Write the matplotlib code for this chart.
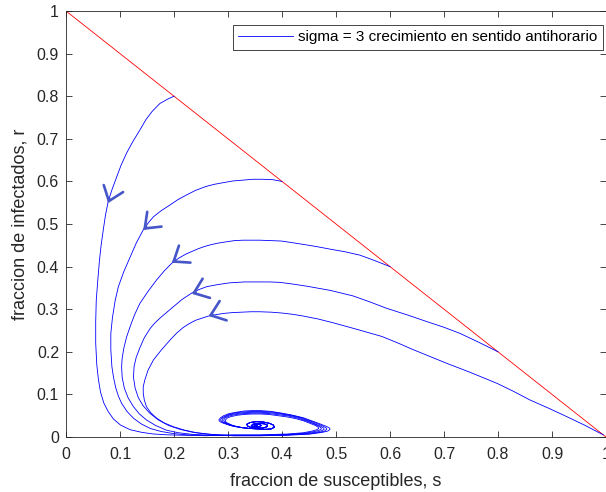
import math
import matplotlib.pyplot as plt

plt.rcParams['font.family'] = ['Liberation Sans', 'DejaVu Sans']

# recta s + r = 1
line_s = [0.0, 1.0]
line_r = [1.0, 0.0]

# trayectorias (fraccion s, fraccion r)
s1 = [0.2, 0.188, 0.174, 0.16, 0.148, 0.137, 0.124, 0.112, 0.102, 0.094, 0.085, 0.078, 0.073, 0.069, 0.065,
      0.062, 0.059, 0.056, 0.055, 0.055, 0.057, 0.060, 0.064, 0.070, 0.078, 0.088, 0.101, 0.119, 0.14, 0.162,
      0.19, 0.22, 0.26]
r1 = [0.8, 0.793, 0.783, 0.765, 0.745, 0.721, 0.694, 0.666, 0.638, 0.611, 0.58, 0.552, 0.52, 0.486, 0.45,
      0.415, 0.37, 0.32, 0.27, 0.22, 0.17, 0.135, 0.105, 0.080, 0.060, 0.042, 0.028, 0.017, 0.011, 0.007,
      0.005, 0.004, 0.003]

s2 = [0.4, 0.383, 0.365, 0.346, 0.328, 0.309, 0.291, 0.274, 0.259, 0.240, 0.223, 0.207, 0.193, 0.176, 0.162,
      0.152, 0.143, 0.130, 0.119, 0.107, 0.097, 0.091, 0.086, 0.083, 0.083, 0.085, 0.088, 0.092, 0.097, 0.103,
      0.113, 0.125, 0.139, 0.156, 0.176, 0.199, 0.225, 0.26]
r2 = [0.6, 0.604, 0.605, 0.605, 0.603, 0.601, 0.597, 0.593, 0.588, 0.579, 0.568, 0.557, 0.545, 0.531, 0.517,
      0.502, 0.486, 0.455, 0.423, 0.388, 0.353, 0.32, 0.28, 0.243, 0.205, 0.165, 0.14, 0.116, 0.096, 0.079,
      0.060, 0.044, 0.031, 0.020, 0.013, 0.008, 0.005, 0.004]

s3 = [0.6, 0.572, 0.544, 0.516, 0.489, 0.464, 0.44, 0.42, 0.399, 0.379, 0.359, 0.343, 0.328, 0.312, 0.296,
      0.281, 0.267, 0.256, 0.245, 0.234, 0.223, 0.209, 0.196, 0.182, 0.168, 0.152, 0.137, 0.127, 0.119, 0.112,
      0.107, 0.104, 0.103, 0.104, 0.108, 0.115, 0.125, 0.136, 0.149, 0.166, 0.186, 0.208, 0.235, 0.27]
r3 = [0.4, 0.414, 0.427, 0.435, 0.441, 0.447, 0.452, 0.456, 0.460, 0.461, 0.462, 0.462, 0.462, 0.461, 0.458,
      0.455, 0.451, 0.447, 0.442, 0.436, 0.430, 0.420, 0.408, 0.39, 0.369, 0.342, 0.314, 0.287, 0.26, 0.234,
      0.208, 0.185, 0.165, 0.14, 0.115, 0.092, 0.071, 0.054, 0.040, 0.027, 0.016, 0.010, 0.006, 0.004]

s4 = [0.8, 0.765, 0.730, 0.699, 0.668, 0.631, 0.594, 0.563, 0.532, 0.49, 0.446, 0.42, 0.396, 0.377, 0.359,
      0.331, 0.304, 0.282, 0.261, 0.246, 0.233, 0.215, 0.199, 0.186, 0.174, 0.164, 0.156, 0.145, 0.137, 0.13,
      0.126, 0.125, 0.128, 0.134, 0.143, 0.155, 0.171, 0.19, 0.211, 0.235, 0.26, 0.29]
r4 = [0.2, 0.222, 0.243, 0.258, 0.271, 0.287, 0.302, 0.317, 0.331, 0.344, 0.354, 0.359, 0.363, 0.364, 0.364,
      0.364, 0.362, 0.358, 0.353, 0.346, 0.338, 0.323, 0.306, 0.292, 0.279, 0.267, 0.255, 0.233, 0.21, 0.187,
      0.165, 0.14, 0.115, 0.092, 0.073, 0.056, 0.040, 0.027, 0.018, 0.011, 0.007, 0.004]

s5 = [0.995, 0.96, 0.927, 0.893, 0.859, 0.829, 0.798, 0.75, 0.705, 0.674, 0.643, 0.614, 0.585, 0.56, 0.538,
      0.495, 0.467, 0.439, 0.42, 0.40, 0.38, 0.359, 0.342, 0.325, 0.308, 0.291, 0.277, 0.264, 0.252, 0.240,
      0.228, 0.217, 0.205, 0.193, 0.177, 0.162, 0.152, 0.146, 0.143, 0.143, 0.145, 0.149, 0.157, 0.168, 0.182,
      0.199, 0.22, 0.242, 0.27, 0.30]
r5 = [0.005, 0.028, 0.048, 0.068, 0.087, 0.107, 0.126, 0.151, 0.173, 0.189, 0.205, 0.221, 0.236, 0.245, 0.253,
      0.268, 0.277, 0.284, 0.288, 0.291, 0.293, 0.294, 0.294, 0.293, 0.292, 0.290, 0.287, 0.284, 0.279, 0.274,
      0.266, 0.257, 0.244, 0.228, 0.205, 0.181, 0.157, 0.134, 0.118, 0.103, 0.087, 0.071, 0.057, 0.044, 0.033,
      0.024, 0.016, 0.010, 0.006, 0.004]

# primer giro de cada trayectoria alrededor del equilibrio
ring1_s = [0.31, 0.36, 0.41, 0.44, 0.456, 0.464, 0.468, 0.467, 0.462, 0.452, 0.44, 0.426, 0.41, 0.393, 0.375, 0.36,
           0.345, 0.33, 0.317, 0.306, 0.299, 0.296, 0.295, 0.297, 0.302, 0.307, 0.315, 0.327, 0.34, 0.355, 0.37]
ring1_r = [0.005, 0.005, 0.007, 0.010, 0.014, 0.017, 0.020, 0.023, 0.027, 0.032, 0.038, 0.043, 0.047, 0.050, 0.053, 0.054,
           0.054, 0.053, 0.051, 0.048, 0.045, 0.041, 0.038, 0.034, 0.031, 0.028, 0.025, 0.022, 0.020, 0.019, 0.018]
ring2_s = [0.31, 0.36, 0.41, 0.443, 0.461, 0.469, 0.473, 0.472, 0.467, 0.457, 0.444, 0.43, 0.413, 0.395, 0.377, 0.36,
           0.345, 0.33, 0.316, 0.304, 0.296, 0.293, 0.292, 0.294, 0.30, 0.306, 0.314, 0.326, 0.34, 0.355, 0.37]
ring2_r = [0.004, 0.004, 0.006, 0.009, 0.013, 0.016, 0.019, 0.022, 0.026, 0.032, 0.038, 0.044, 0.049, 0.052, 0.055, 0.056,
           0.056, 0.055, 0.053, 0.050, 0.046, 0.042, 0.039, 0.035, 0.031, 0.028, 0.025, 0.022, 0.020, 0.019, 0.018]
ring3_s = [0.31, 0.36, 0.41, 0.446, 0.466, 0.474, 0.478, 0.477, 0.472, 0.461, 0.448, 0.433, 0.416, 0.397, 0.378, 0.36,
           0.345, 0.33, 0.316, 0.303, 0.294, 0.29, 0.289, 0.291, 0.297, 0.304, 0.313, 0.326, 0.34, 0.355, 0.37]
ring3_r = [0.004, 0.004, 0.005, 0.008, 0.012, 0.015, 0.018, 0.021, 0.025, 0.031, 0.038, 0.045, 0.050, 0.054, 0.057, 0.058,
           0.058, 0.057, 0.055, 0.052, 0.047, 0.043, 0.039, 0.035, 0.031, 0.028, 0.025, 0.022, 0.020, 0.019, 0.018]
ring4_s = [0.31, 0.36, 0.41, 0.449, 0.470, 0.479, 0.483, 0.482, 0.477, 0.466, 0.452, 0.437, 0.418, 0.399, 0.379, 0.36,
           0.345, 0.33, 0.315, 0.302, 0.293, 0.288, 0.286, 0.288, 0.295, 0.302, 0.312, 0.325, 0.34, 0.355, 0.37]
ring4_r = [0.003, 0.003, 0.005, 0.007, 0.011, 0.014, 0.018, 0.021, 0.025, 0.031, 0.038, 0.045, 0.051, 0.055, 0.059, 0.060,
           0.060, 0.059, 0.057, 0.053, 0.048, 0.044, 0.040, 0.036, 0.032, 0.028, 0.025, 0.022, 0.020, 0.019, 0.018]
ring5_s = [0.31, 0.36, 0.41, 0.452, 0.475, 0.485, 0.489, 0.488, 0.482, 0.47, 0.455, 0.44, 0.42, 0.40, 0.38, 0.36,
           0.345, 0.33, 0.315, 0.302, 0.292, 0.286, 0.283, 0.285, 0.292, 0.30, 0.31, 0.325, 0.34, 0.355, 0.37]
ring5_r = [0.003, 0.003, 0.004, 0.007, 0.011, 0.014, 0.018, 0.021, 0.025, 0.031, 0.038, 0.045, 0.051, 0.056, 0.060, 0.062,
           0.062, 0.061, 0.058, 0.055, 0.050, 0.045, 0.040, 0.036, 0.032, 0.029, 0.025, 0.022, 0.020, 0.019, 0.018]

# espiral final (comun)
spiral_s = [0.38, 0.386, 0.384, 0.377, 0.366, 0.352, 0.341, 0.335, 0.336, 0.343, 0.353, 0.364, 0.372, 0.373,
            0.367, 0.356, 0.346, 0.343, 0.348, 0.357, 0.362, 0.359, 0.352, 0.348, 0.350, 0.354]
spiral_r = [0.019, 0.023, 0.028, 0.032, 0.035, 0.036, 0.034, 0.030, 0.026, 0.022, 0.021, 0.021, 0.024, 0.028,
            0.031, 0.032, 0.030, 0.026, 0.024, 0.024, 0.027, 0.029, 0.030, 0.028, 0.026, 0.027]

# flechas: punta (s, r) y angulo en pantalla (grados)
arrow_s = [0.078, 0.143, 0.196, 0.233, 0.264]
arrow_r = [0.549, 0.486, 0.409, 0.336, 0.284]
arrow_ang = [-110, -136, -146, -159, -160]

ticks = [0, 0.1, 0.2, 0.3, 0.4, 0.5, 0.6, 0.7, 0.8, 0.9, 1]
tick_labels = ['0', '0.1', '0.2', '0.3', '0.4', '0.5', '0.6', '0.7', '0.8', '0.9', '1']

traj_s = [s1 + ring1_s, s2 + ring2_s, s3 + ring3_s, s4 + ring4_s, s5 + ring5_s]
traj_r = [r1 + ring1_r, r2 + ring2_r, r3 + ring3_r, r4 + ring4_r, r5 + ring5_r]

W, H = 606, 492
fig = plt.figure(figsize=(W / 100, H / 100), dpi=100)
ax = fig.add_axes([66 / W, (H - 437) / H, 540 / W, 426 / H])

ax.plot(line_s, line_r, color='#ff0000', lw=0.6)
for i in range(len(traj_s)):
    ax.plot(traj_s[i] + spiral_s, traj_r[i] + spiral_r, color='#0000ff', lw=0.6,
            label='sigma = 3 crecimiento en sentido antihorario' if i == 0 else None)

for x, y, a in zip(arrow_s, arrow_r, arrow_ang):
    dx = -3 * math.cos(math.radians(a))
    dy = -3 * math.sin(math.radians(a))
    ax.annotate('', xy=(x, y), xytext=(dx, dy), textcoords='offset points',
                arrowprops=dict(arrowstyle='->,head_length=0.48,head_width=0.37',
                                color='#4656c8', lw=1.9, shrinkA=0, shrinkB=0,
                                mutation_scale=20))

ax.set_xlim(0, 1)
ax.set_ylim(0, 1)
ax.set_xticks(ticks)
ax.set_xticklabels(tick_labels)
ax.set_yticks(ticks)
ax.set_yticklabels(tick_labels)
ax.tick_params(direction='in', top=True, right=True, length=4, width=0.6,
               colors='#262626', labelsize=11.5)
ax.tick_params(axis='x', pad=7)
ax.tick_params(axis='y', pad=5)
for sp in ax.spines.values():
    sp.set_color('#262626')
    sp.set_linewidth(0.6)

ax.set_xlabel('fraccion de susceptibles, s', fontsize=13, color='#262626', labelpad=8)
ax.set_ylabel('fraccion de infectados, r', fontsize=13, color='#262626', labelpad=6)

leg = ax.legend(loc='upper right', bbox_to_anchor=(603 / W, 1 - 25 / H),
                bbox_transform=fig.transFigure, borderaxespad=0, fancybox=False,
                edgecolor='#262626', framealpha=1, fontsize=11, handlelength=3.6,
                handletextpad=0.35, borderpad=0.35)
leg.get_frame().set_linewidth(0.6)

fig.savefig('out.png', dpi=100)
